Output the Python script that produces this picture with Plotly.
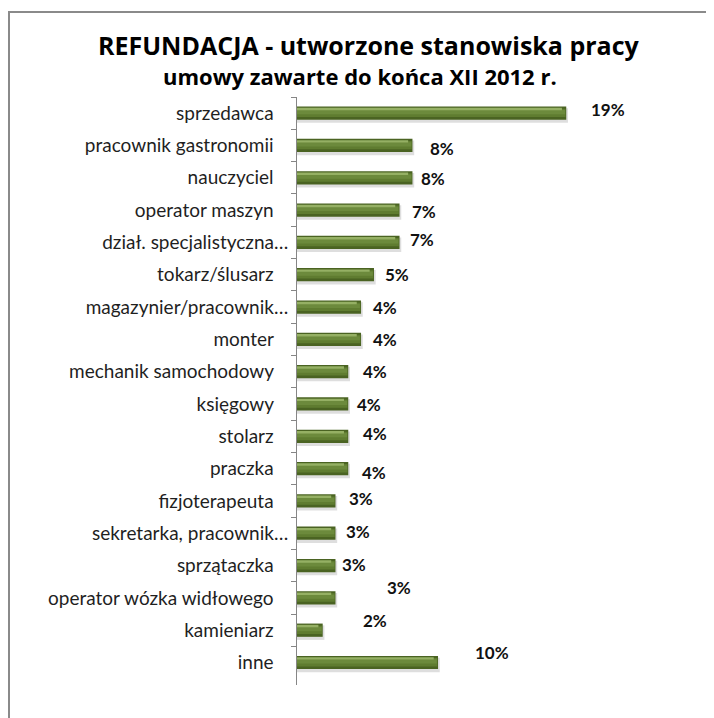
import plotly.graph_objects as go

# ---- data ----
categories = [
    "sprzedawca", "pracownik gastronomii", "nauczyciel", "operator maszyn",
    "dział. specjalistyczna…", "tokarz/ślusarz", "magazynier/pracownik…", "monter",
    "mechanik samochodowy", "księgowy", "stolarz", "praczka", "fizjoterapeuta",
    "sekretarka, pracownik…", "sprzątaczka", "operator wózka widłowego",
    "kamieniarz", "inne",
]
shares = [18.75, 8.04, 8.04, 7.14, 7.14, 5.36, 4.46, 4.46, 3.57, 3.57, 3.57, 3.57,
          2.68, 2.68, 2.68, 2.68, 1.79, 9.82]
value_labels = [f"{round(v)}%" for v in shares]

# label placement tweaks (pixels, relative to bar end)
label_dx = [42, 30, 21, 24, 22, 23, 24, 24, 27, 21, 27, 26, 26, 23, 19, 64, 52, 54]
label_dy = [4, -3, -1, -1, 3, 0, 0, 0, 0, -1, 3, -4, 2, 2, 1, 10, 10, 10]

title1 = "REFUNDACJA - utworzone stanowiska pracy"
title2 = "umowy zawarte do końca XII 2012 r."

# display labels (trailing spaces like the original source cells)
display = [c if c.endswith("…") else c + "\u00a0\u00a0\u00a0" for c in categories]

# page has an 8px body margin, so the figure is 8px smaller and shifted
OFF = 8
W, H = 714 - OFF, 718 - OFF
ML, MT = 297 - OFF, 97 - OFF
MR = W - (690 - OFF)
MB = H - (685 - OFF)
PX_PER_UNIT = 14.36
pw, ph = W - ML - MR, H - MT - MB
xmax = pw / PX_PER_UNIT


def px2paper(x, y):
    return (x - OFF - ML) / pw, 1 - (y - OFF - MT) / ph


fig = go.Figure()

common = dict(orientation="h", y=display, hoverinfo="skip", showlegend=False)
# soft shadow
fig.add_trace(go.Bar(x=[v + 0.12 for v in shares], offset=-0.15, width=0.45,
                     marker=dict(color="rgba(0,0,0,0.13)", line=dict(width=0)), **common))
# dark body
fig.add_trace(go.Bar(x=shares, offset=-0.205, width=0.41,
                     marker=dict(color="#4a6322", line=dict(width=0)), **common))
# mid tone
fig.add_trace(go.Bar(x=[v - 0.05 for v in shares], offset=-0.14, width=0.26,
                     marker=dict(color="#5f7c30", line=dict(width=0)), **common))
fig.add_trace(go.Bar(x=[v - 0.08 for v in shares], offset=-0.10, width=0.13,
                     marker=dict(color="#6c8a3c", line=dict(width=0)), **common))
# top highlight
fig.add_trace(go.Bar(x=[v - 0.3 for v in shares], offset=-0.165, width=0.075,
                     marker=dict(color="#95b064", line=dict(width=0)), **common))

annotations = [
    dict(x=v, y=c, text=t, xref="x", yref="y", xanchor="center", yanchor="middle",
         xshift=dx, yshift=dy, showarrow=False,
         font=dict(family="Lato", size=17, color="#111111", weight="bold"))
    for v, c, t, dx, dy in zip(shares, display, value_labels, label_dx, label_dy)
]
tx, ty = px2paper(369, 45)
sx, sy = px2paper(360, 76)
annotations += [
    dict(x=tx, y=ty, xref="paper", yref="paper", text=f"<b>{title1}</b>",
         showarrow=False, xanchor="center", yanchor="middle",
         font=dict(family="Open Sans", size=25, color="#000000")),
    dict(x=sx, y=sy, xref="paper", yref="paper", text=f"<b>{title2}</b>",
         showarrow=False, xanchor="center", yanchor="middle",
         font=dict(family="Open Sans", size=22, color="#000000")),
]

bx0, by1 = px2paper(9, 12)
bx1, by0 = px2paper(740, 740)

fig.update_layout(
    width=W, height=H,
    margin=dict(l=ML, r=MR, t=MT, b=MB, pad=0),
    paper_bgcolor="white", plot_bgcolor="white",
    barmode="overlay",
    font=dict(family="Lato", color="#1f1f1f"),
    xaxis=dict(range=[0, xmax], visible=False, showgrid=False, zeroline=False),
    yaxis=dict(type="category", categoryorder="array", categoryarray=display,
               autorange="reversed", showline=True, linecolor="#868686", linewidth=1,
               ticks="outside", tickson="boundaries", ticklen=5, tickcolor="#868686",
               tickwidth=1, showgrid=False, zeroline=False, ticklabelstandoff=4,
               tickfont=dict(family="Lato", size=19, color="#1f1f1f")),
    annotations=annotations,
    shapes=[dict(type="rect", xref="paper", yref="paper",
                 x0=bx0, x1=bx1, y0=by0, y1=by1,
                 line=dict(color="#8a8a8a", width=2), fillcolor="rgba(0,0,0,0)", layer="below")],
)

fig.write_html("out.html")
